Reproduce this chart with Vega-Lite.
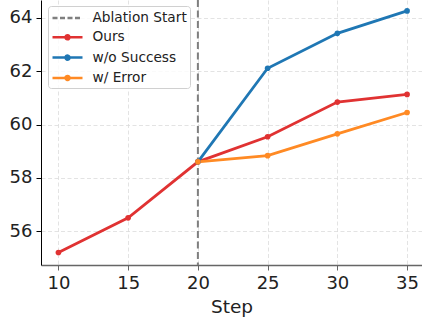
{
  "$schema": "https://vega.github.io/schema/vega-lite/v6.json",
  "width": 381,
  "height": 265,
  "autosize": {"type": "none"},
  "padding": {"left": 41, "top": 0, "right": 0, "bottom": 55},
  "config": {
    "font": "DejaVu Sans",
    "view": {"stroke": null},
    "axisY": {
      "domainColor": "#000000", "domainWidth": 1, "tickColor": "#000000", "tickSize": 5, "tickWidth": 1,
      "labelFontSize": 18, "labelColor": "#222222", "labelPadding": 4,
      "grid": true, "gridColor": "#dcdcdc", "gridDash": [4, 2.5], "gridWidth": 0.8
    },
    "axisX": {
      "domainColor": "#666666", "domainWidth": 1.5, "tickColor": "#666666", "tickSize": 5, "tickWidth": 1,
      "labelFontSize": 18, "labelColor": "#222222", "labelPadding": 4, "labelFlush": false, "labelOverlap": false,
      "titleFontSize": 18.5, "titleFontWeight": "normal", "titleColor": "#222222", "titlePadding": 5,
      "grid": true, "gridColor": "#dcdcdc", "gridDash": [4, 2.5], "gridWidth": 0.8
    }
  },
  "datasets": {
    "ablation": [{"step": 20}],
    "series": [
      {"step": 10, "score": 55.2, "method": "Ours"},
      {"step": 15, "score": 56.5, "method": "Ours"},
      {"step": 20, "score": 58.6, "method": "Ours"},
      {"step": 25, "score": 59.54, "method": "Ours"},
      {"step": 30, "score": 60.84, "method": "Ours"},
      {"step": 35, "score": 61.13, "method": "Ours"},
      {"step": 20, "score": 58.6, "method": "w/o Success"},
      {"step": 25, "score": 62.11, "method": "w/o Success"},
      {"step": 30, "score": 63.42, "method": "w/o Success"},
      {"step": 35, "score": 64.26, "method": "w/o Success"},
      {"step": 20, "score": 58.6, "method": "w/ Error"},
      {"step": 25, "score": 58.83, "method": "w/ Error"},
      {"step": 30, "score": 59.65, "method": "w/ Error"},
      {"step": 35, "score": 60.45, "method": "w/ Error"}
    ]
  },
  "layer": [
    {
      "data": {"name": "ablation"},
      "mark": {"type": "rule", "color": "#7f7f7f", "strokeWidth": 2, "strokeDash": [7, 3.5]},
      "encoding": {
        "x": {"field": "step", "type": "quantitative"}
      }
    },
    {
      "data": {"name": "series"},
      "mark": {"type": "line", "strokeWidth": 2.8, "point": {"filled": true, "size": 32, "opacity": 1}},
      "encoding": {
        "x": {
          "field": "step", "type": "quantitative",
          "scale": {"domain": [8.75, 36.07], "zero": false, "nice": false},
          "axis": {"values": [10, 15, 20, 25, 30, 35], "title": "Step"}
        },
        "y": {
          "field": "score", "type": "quantitative",
          "scale": {"domain": [54.73, 64.67], "zero": false, "nice": false},
          "axis": {"values": [56, 58, 60, 62, 64], "title": null}
        },
        "color": {
          "field": "method", "type": "nominal",
          "scale": {
            "domain": ["Ablation Start", "Ours", "w/o Success", "w/ Error"],
            "range": ["#7f7f7f", "#e03232", "#1f77b4", "#ff8a24"]
          },
          "legend": {
            "title": null,
            "orient": "none",
            "legendX": 7,
            "legendY": 6,
            "padding": 3,
            "rowPadding": 3.3,
            "symbolType": "M-2,0H2M-0.27,0A0.27,0.27 0 1,1 0.27,0A0.27,0.27 0 1,1 -0.27,0Z",
            "symbolSize": 225,
            "symbolStrokeWidth": 2.5,
            "symbolOffset": 7.5,
            "labelOffset": 16,
            "labelFontSize": 13.7,
            "labelColor": "#222222",
            "labelExpr": "datum.label + '\u00a0'",
            "fillColor": "rgba(255,255,255,0.8)",
            "strokeColor": "#d0d0d0",
            "cornerRadius": 3,
            "encode": {
              "symbols": {
                "update": {
                  "shape": [
                    {"test": "datum.value === 'Ablation Start'", "value": "M-2,0H2"},
                    {"value": "M-2,0H2M-0.27,0A0.27,0.27 0 1,1 0.27,0A0.27,0.27 0 1,1 -0.27,0Z"}
                  ],
                  "stroke": [
                    {"test": "datum.value === 'Ablation Start'", "value": "#7f7f7f"},
                    {"test": "datum.value === 'Ours'", "value": "#e03232"},
                    {"test": "datum.value === 'w/o Success'", "value": "#1f77b4"},
                    {"value": "#ff8a24"}
                  ],
                  "fill": [
                    {"test": "datum.value === 'Ablation Start'", "value": "transparent"},
                    {"test": "datum.value === 'Ours'", "value": "#e03232"},
                    {"test": "datum.value === 'w/o Success'", "value": "#1f77b4"},
                    {"value": "#ff8a24"}
                  ],
                  "strokeDash": [
                    {"test": "datum.value === 'Ablation Start'", "value": [5, 2.5]},
                    {"value": [1, 0]}
                  ],
                  "fillOpacity": {"value": 1},
                  "opacity": {"value": 1}
                }
              }
            }
          }
        }
      }
    }
  ]
}
